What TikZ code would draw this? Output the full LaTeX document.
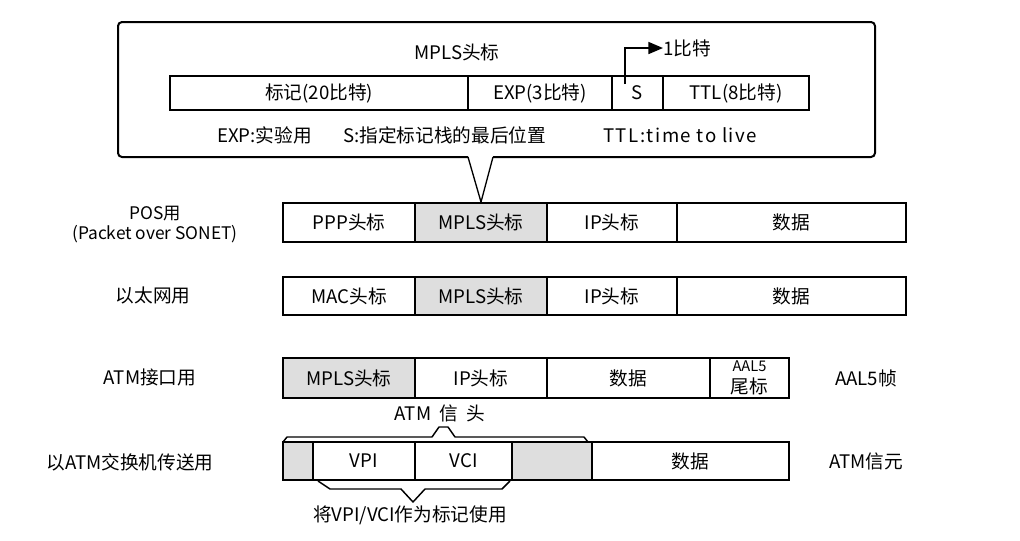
\documentclass[tikz,border=0pt]{standalone}
\usepackage{fontspec}
\setmainfont{Noto Sans CJK SC}
\usetikzlibrary{arrows.meta}
\definecolor{cellgray}{gray}{0.87}
\tikzset{
  cellst/.style={draw, line width=1.5pt, inner sep=0pt, outer sep=0pt, align=center,
    font=\fontsize{14}{16}\selectfont},
  lbl/.style={inner sep=1pt, align=center, font=\fontsize{14}{16}\selectfont},
  thinln/.style={line width=1pt},
  bracest/.style={line width=1.1pt, line join=round},
}
\newcommand\mycell[7]{%
  \node[cellst, fill=#7, minimum width={(#3-#2)*0.75pt}, minimum height={(#5-#4)*0.75pt}]
    (#1) at ({(#2+#3)/2},{(#4+#5)/2}) {#6};}
\begin{document}
\begin{tikzpicture}[x=0.75pt, y=-0.75pt]
\fill[white] (0,0) rectangle (1020,540);
\useasboundingbox (0,0) rectangle (1020,540);

% ---- callout ----
\draw[line width=1.5pt, rounded corners=3pt] (468,157) -- (118,157) -- (118,22) -- (875,22) -- (875,157) -- (493,157);
\draw[thinln, line join=miter] (468,157) -- (481,202) -- (493,157);

\node[lbl] (title) at (457,52) {MPLS头标};
\mycell{f1}{170}{468}{76}{110}{标记(20比特)}{white}
\mycell{f2}{468}{612}{76}{110}{EXP(3比特)}{white}
\mycell{f3}{612}{663}{76}{110}{S}{white}
\mycell{f4}{663}{809}{76}{110}{TTL(8比特)}{white}
\node[lbl, anchor=west, inner sep=0pt] (bit) at (663,48) {1比特};
\coordinate (sfoot) at (625,84);
\draw[line width=1.3pt, -{Triangle[length=11pt, width=9pt]}] (sfoot) |- (bit.west);
\node[lbl, anchor=west, inner sep=0pt] (legA) at (217,135) {EXP:实验用};
\node[lbl, anchor=west, inner sep=0pt] (legB) at (343,135) {S:指定标记栈的最后位置};
\node[lbl, anchor=west, inner sep=0pt, font=\fontsize{14}{16}\selectfont\addfontfeatures{LetterSpace=8}] (legC) at (603,135) {TTL:time to live};

% ---- row 1: POS ----
\node[lbl, font=\fontsize{13}{15}\selectfont] (lpos) at (155,225) {POS用\\(Packet over SONET)};
\mycell{a1}{283}{415}{203}{242}{PPP头标}{white}
\mycell{a2}{415}{547}{203}{242}{MPLS头标}{cellgray}
\mycell{a3}{547}{677}{203}{242}{IP头标}{white}
\mycell{a4}{677}{906}{203}{242}{数据}{white}

% ---- row 2: Ethernet ----
\node[lbl] (leth) at (153,295) {以太网用};
\mycell{b1}{283}{415}{277}{315}{MAC头标}{white}
\mycell{b2}{415}{547}{277}{315}{MPLS头标}{cellgray}
\mycell{b3}{547}{677}{277}{315}{IP头标}{white}
\mycell{b4}{677}{906}{277}{315}{数据}{white}

% ---- row 3: ATM interface ----
\node[lbl] (latm) at (150,377) {ATM接口用};
\mycell{c1}{283}{415}{358}{398}{MPLS头标}{cellgray}
\mycell{c2}{415}{547}{358}{398}{IP头标}{white}
\mycell{c3}{547}{710}{358}{398}{数据}{white}
\mycell{c4}{710}{789}{358}{398}{\fontsize{11}{12}\selectfont AAL5\\尾标}{white}
\node[lbl] (raal) at (866,378) {AAL5帧};

% ---- row 4: ATM switch ----
\node[lbl] (atmh) at (440,413) {ATM\ \ 信\ \ 头};
\draw[bracest] (283,442) -- (287,437) -- (432,437) -- (439,427) -- (448,427) -- (455,437) -- (584,437) -- (588,442);
\node[lbl] (lsw) at (130,462) {以ATM交换机传送用};
\mycell{d1}{283}{313}{442}{480}{}{cellgray}
\mycell{d2}{313}{415}{442}{480}{VPI}{white}
\mycell{d3}{415}{512}{442}{480}{VCI}{white}
\mycell{d4}{512}{592}{442}{480}{}{cellgray}
\mycell{d5}{592}{789}{442}{480}{数据}{white}
\node[lbl] (rcell) at (866,461) {ATM信元};
\draw[bracest] (318,481) -- (330,489) -- (401,489) -- (413,502) -- (425,489) -- (502,489) -- (510,481);
\node[lbl] (use) at (410,515) {将VPI/VCI作为标记使用};
\end{tikzpicture}
\end{document}
